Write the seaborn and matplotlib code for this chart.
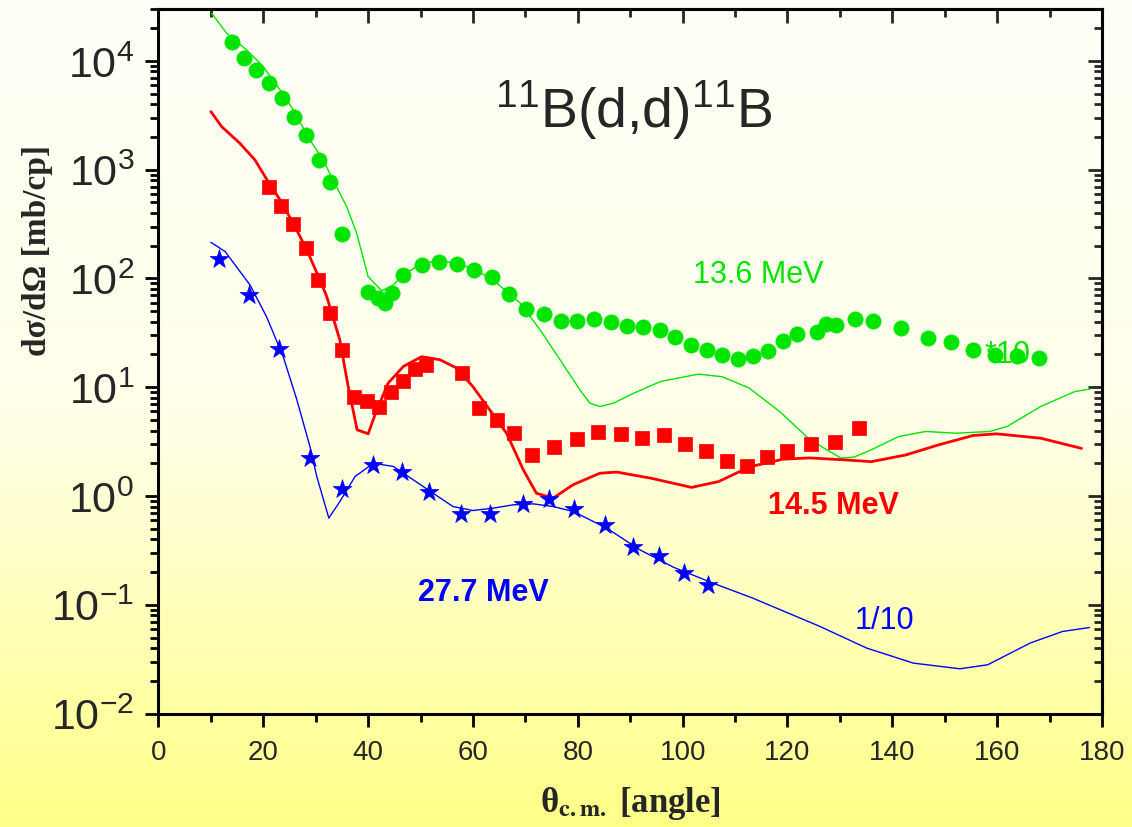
import numpy as np
import pandas as pd
import matplotlib
matplotlib.use("Agg")
import matplotlib.pyplot as plt
import seaborn as sns
from matplotlib.colors import LinearSegmentedColormap
from matplotlib.ticker import LogLocator, MultipleLocator, NullFormatter

# ---- measured cross sections (points) ----
theta_136 = [13.96, 16.36, 18.65, 21.08, 23.5, 25.79, 28.13, 30.56, 32.77, 35.1,
             39.9, 41.9, 43.2, 44.5, 46.7, 50.2, 53.6, 56.9, 60.2, 63.55,
             66.9, 70.2, 73.5, 76.8, 79.9, 83.1, 86.3, 89.4, 92.5, 95.6,
             98.6, 101.5, 104.7, 107.6, 110.5, 113.4, 116.2, 119.2, 121.9, 125.6,
             127.4, 129.3, 132.9, 136.4, 141.7, 146.9, 151.1, 155.4, 159.6, 163.7, 167.9]
xs_136 = [15000, 10580, 8260, 6230, 4540, 3040, 2076, 1230, 767, 254,
          75.3, 65.9, 60.1, 74.2, 107, 132, 141, 137, 120, 104,
          71.8, 52.9, 47.0, 41.0, 40.5, 42.8, 39.9, 36.9, 36.1, 33.5,
          29.1, 24.4, 21.9, 19.9, 18.1, 19.2, 21.6, 26.6, 30.8, 32.1,
          38.3, 37.7, 42.3, 41.0, 34.7, 28.1, 26.0, 21.9, 19.9, 19.4, 18.5]

theta_145 = [21.02, 23.42, 25.71, 28.08, 30.5, 32.7, 35.0, 37.35, 39.7, 42.0,
             44.3, 46.6, 48.9, 51.0, 57.9, 61.2, 64.5, 67.9, 71.2, 75.4,
             79.8, 83.8, 88.2, 92.3, 96.4, 100.5, 104.5, 108.4, 112.2, 116.1,
             119.9, 124.5, 129.1, 133.6]
xs_145 = [690, 468, 316, 189, 96.5, 48.3, 22.1, 8.06, 7.50, 6.56,
          9.12, 11.5, 14.7, 16.0, 13.5, 6.51, 4.99, 3.79, 2.36, 2.81,
          3.33, 3.85, 3.73, 3.38, 3.63, 3.0, 2.60, 2.12, 1.90, 2.26,
          2.59, 3.02, 3.11, 4.24]

theta_277 = [11.54, 17.26, 22.93, 28.9, 35.0, 40.9, 46.5, 51.7, 57.7, 63.2,
             69.5, 74.5, 79.2, 85.2, 90.56, 95.4, 100.3, 104.9]
xs_277 = [151, 70.2, 22.4, 2.24, 1.157, 1.94, 1.68, 1.086, 0.69, 0.686,
          0.842, 0.936, 0.763, 0.536, 0.339, 0.282, 0.194, 0.153]

# ---- calculated cross sections (curves) ----
fit_theta_136 = [10.15, 13.0, 16.8, 20.0, 23.2, 25.7, 28.9, 31.4, 33.3, 35.9,
                 37.8, 40.0, 42.6, 44.8, 46.7, 50.4, 53.7, 56.9, 60.4, 63.8,
                 68.95, 72.8, 76.6, 80.4, 82.3, 84.2, 86.8, 90.7, 95.8, 103.0,
                 107.5, 112.7, 118.5, 124.3, 130.2, 132.7, 136.0, 141.2, 146.3, 152.2,
                 158.6, 161.9, 168.3, 174.8, 177.7]
fit_xs_136 = [27400, 17990, 12620, 8870, 5410, 3548, 1879, 1230, 805, 458,
              261, 104, 76.9, 87.3, 108, 139, 145, 138, 120, 97.0,
              59.7, 33.7, 17.9, 9.46, 7.14, 6.65, 7.14, 8.83, 11.3, 13.2,
              12.5, 9.82, 5.98, 3.29, 2.23, 2.28, 2.66, 3.52, 3.92, 3.78,
              3.92, 4.36, 6.65, 9.12, 9.62]

fit_theta_145 = [10.0, 12.05, 15.5, 18.4, 20.9, 23.2, 25.7, 28.3, 30.8, 32.1,
                 34.6, 36.2, 37.9, 40.0, 41.3, 43.8, 46.7, 50.2, 53.7, 56.9,
                 60.0, 63.2, 66.4, 69.6, 72.1, 75.3, 79.1, 84.2, 87.4, 93.9,
                 101.7, 106.9, 112.7, 119.1, 124.3, 130.8, 136.0, 142.5, 148.9, 155.4,
                 159.9, 168.3, 176.1]
fit_xs_145 = [3420, 2489, 1754, 1230, 778, 527, 322, 183, 97.0, 68.2,
              27.2, 10.1, 4.06, 3.73, 5.57, 10.9, 15.5, 19.1, 17.9, 15.0,
              10.1, 6.19, 3.78, 1.74, 1.06, 0.957, 1.27, 1.62, 1.66, 1.46,
              1.20, 1.36, 1.85, 2.18, 2.24, 2.15, 2.07, 2.38, 2.96, 3.60,
              3.73, 3.40, 2.74]

fit_theta_277 = [10.0, 12.7, 17.45, 20.6, 23.8, 26.4, 28.9, 30.2, 32.5, 34.6,
                 37.5, 41.0, 44.8, 48.6, 52.4, 56.2, 60.0, 63.9, 67.7, 71.5,
                 75.3, 79.1, 85.5, 91.8, 98.2, 105.8, 113.4, 122.4, 126.2, 135.1,
                 144.0, 152.9, 158.2, 166.3, 172.5, 177.6]
fit_xs_277 = [215, 177, 87.3, 44.7, 19.1, 7.66, 2.85, 1.51, 0.627, 0.889,
              1.51, 2.00, 1.87, 1.41, 1.06, 0.80, 0.736, 0.774, 0.830, 0.847,
              0.80, 0.721, 0.507, 0.321, 0.222, 0.158, 0.115, 0.0755, 0.0632, 0.040,
              0.0291, 0.0258, 0.0281, 0.0445, 0.0569, 0.0618]

x_ticks = [0, 20, 40, 60, 80, 100, 120, 140, 160, 180]

GREEN = "#00E400"
RED = "#FF0000"
BLUE = "#0000FF"

sns.set_style("ticks")
plt.rcParams["font.family"] = ["Liberation Sans", "DejaVu Sans"]
plt.rcParams["mathtext.fontset"] = "custom"
plt.rcParams["mathtext.rm"] = "Liberation Sans"
plt.rcParams["mathtext.it"] = "Liberation Sans:italic"
plt.rcParams["mathtext.bf"] = "Liberation Sans:bold"
plt.rcParams["axes.unicode_minus"] = False

fig = plt.figure(figsize=(11.32, 8.28), dpi=100)

# vertical white-to-yellow backdrop
bg = fig.add_axes([0, 0, 1, 1], zorder=-10)
grad = np.linspace(0, 1, 256).reshape(-1, 1)
cmap = LinearSegmentedColormap.from_list("backdrop", ["#FFFFF8", "#FFFFEA", "#FFFF88"])
bg.imshow(grad, aspect="auto", cmap=cmap, extent=[0, 1, 0, 1], origin="upper")
bg.axis("off")

ax = fig.add_axes([0.140, 0.137, 0.8335, 0.8509])
ax.set_facecolor("none")

curves = [
    (fit_theta_136, fit_xs_136, GREEN, 1.0),
    (fit_theta_145, fit_xs_145, RED, 2.0),
    (fit_theta_277, fit_xs_277, BLUE, 1.0),
]
for th, xs, col, lw in curves:
    df = pd.DataFrame({"theta": th, "xs": xs})
    sns.lineplot(data=df, x="theta", y="xs", ax=ax, color=col, lw=lw,
                 sort=False, estimator=None, zorder=2)

points = [
    (theta_136, xs_136, GREEN, "o", 120),
    (theta_145, xs_145, RED, "s", 95),
    (theta_277, xs_277, BLUE, "*", 200),
]
for th, xs, col, mk, s in points:
    df = pd.DataFrame({"theta": th, "xs": xs})
    sns.scatterplot(data=df, x="theta", y="xs", ax=ax, color=col, marker=mk,
                    s=s, edgecolor=col, linewidth=0.5, zorder=3)

ax.set_yscale("log")
ax.set_xlim(0, 180)
ax.set_ylim(1e-2, 3e4)
ax.set_xticks(x_ticks)
ax.xaxis.set_minor_locator(MultipleLocator(10))
ax.yaxis.set_major_locator(LogLocator(base=10, numticks=20))
ax.yaxis.set_minor_locator(LogLocator(base=10, subs=np.arange(2, 10), numticks=20))
ax.yaxis.set_minor_formatter(NullFormatter())

ax.tick_params(which="both", direction="out", width=2, color="black", top=False, right=False)
ax.tick_params(which="major", length=9.5)
ax.tick_params(which="minor", length=5.5)
ax.tick_params(axis="x", labelsize=20, pad=9)
ax.tick_params(axis="y", labelsize=31, pad=8)
for sp in ax.spines.values():
    sp.set_linewidth(2.2)
    sp.set_color("black")

# inward ticks on the opposite frame sides
top = ax.secondary_xaxis("top")
top.set_xticks(x_ticks)
top.xaxis.set_minor_locator(MultipleLocator(10))
top.tick_params(which="both", direction="in", width=2, labeltop=False)
top.tick_params(which="major", length=10)
top.tick_params(which="minor", length=5.5)
top.spines["top"].set_linewidth(2.2)

right = ax.secondary_yaxis("right")
right.yaxis.set_major_locator(LogLocator(base=10, numticks=20))
right.yaxis.set_minor_locator(LogLocator(base=10, subs=np.arange(2, 10), numticks=20))
right.tick_params(which="both", direction="in", width=2, labelright=False)
right.tick_params(which="major", length=10)
right.tick_params(which="minor", length=5.5)
right.spines["right"].set_linewidth(2.2)

ax.set_xlabel(r"θ$_{\mathbf{c.m.}}$ [angle]", fontfamily="Liberation Serif",
              fontweight="bold", fontsize=25, math_fontfamily="stix")
ax.xaxis.set_label_coords(0.5, -0.100)
ax.set_ylabel("dσ/dΩ [mb/cp]", fontfamily="Liberation Serif",
              fontweight="bold", fontsize=24)
ax.yaxis.set_label_coords(-0.112, 0.659)

ax.text(64.2, 2490, r"$^{11}$B(d,d)$^{11}$B", fontsize=40, ha="left", va="baseline")
ax.text(101.95, 93.1, "13.6 MeV", color=GREEN, fontsize=22, ha="left", va="baseline", zorder=1)
ax.text(157.6, 17.1, "*10", color=GREEN, fontsize=22, ha="left", va="baseline", zorder=1)
ax.text(116.3, 0.702, "14.5 MeV", color=RED, fontsize=22, fontweight="bold",
        ha="left", va="baseline", zorder=1)
ax.text(49.5, 0.111, "27.7 MeV", color=BLUE, fontsize=22, fontweight="bold",
        ha="left", va="baseline", zorder=1)
ax.text(132.8, 0.0615, "1/10", color=BLUE, fontsize=22, ha="left", va="baseline", zorder=1)

fig.savefig("out.png", dpi=100)
